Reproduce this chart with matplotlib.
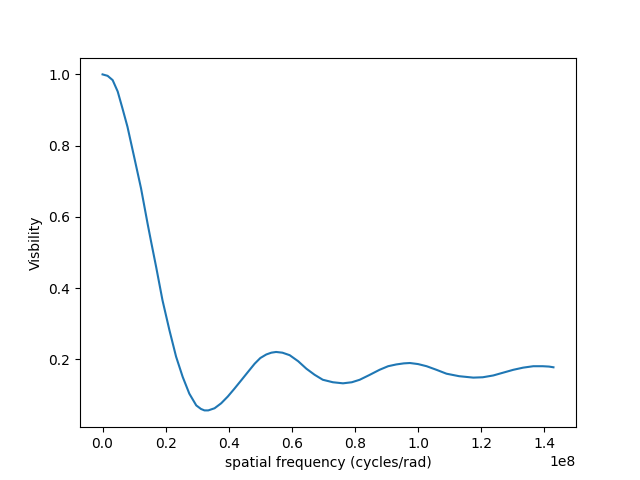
import numpy as np
import matplotlib
matplotlib.use("Agg")
import matplotlib.pyplot as plt

# Spatial frequency in units of 1e8 cycles/rad
freq = [0.0, 0.016, 0.032, 0.048, 0.063, 0.079, 0.092, 0.101, 0.122, 0.143,
        0.154, 0.170, 0.190, 0.212, 0.233, 0.254, 0.275, 0.297, 0.312, 0.323,
        0.335, 0.355, 0.376, 0.397, 0.418, 0.44, 0.46, 0.482, 0.50, 0.519,
        0.535, 0.55, 0.57, 0.593, 0.62, 0.646, 0.672, 0.698, 0.73, 0.762,
        0.79, 0.815, 0.845, 0.878, 0.905, 0.931, 0.955, 0.974, 1.0, 1.027,
        1.058, 1.09, 1.13, 1.175, 1.205, 1.238, 1.27, 1.302, 1.333, 1.365,
        1.395, 1.415, 1.429]

visibility = [1.0, 0.996, 0.984, 0.952, 0.905, 0.853, 0.801, 0.765, 0.680, 0.580,
              0.530, 0.459, 0.366, 0.282, 0.208, 0.151, 0.104, 0.071, 0.061, 0.057,
              0.057, 0.063, 0.077, 0.096, 0.118, 0.142, 0.164, 0.188, 0.204, 0.214,
              0.219, 0.221, 0.219, 0.212, 0.195, 0.174, 0.157, 0.143, 0.136, 0.133,
              0.136, 0.143, 0.156, 0.171, 0.181, 0.186, 0.189, 0.19, 0.187, 0.181,
              0.171, 0.16, 0.153, 0.149, 0.150, 0.155, 0.163, 0.171, 0.177, 0.181,
              0.181, 0.180, 0.178]

fig, ax = plt.subplots(figsize=(6.4, 4.8), dpi=100)
ax.plot(np.array(freq) * 1e8, visibility)
ax.set_xlabel('spatial frequency (cycles/rad)')
ax.set_ylabel('Visbility')

fig.savefig('out.png')
